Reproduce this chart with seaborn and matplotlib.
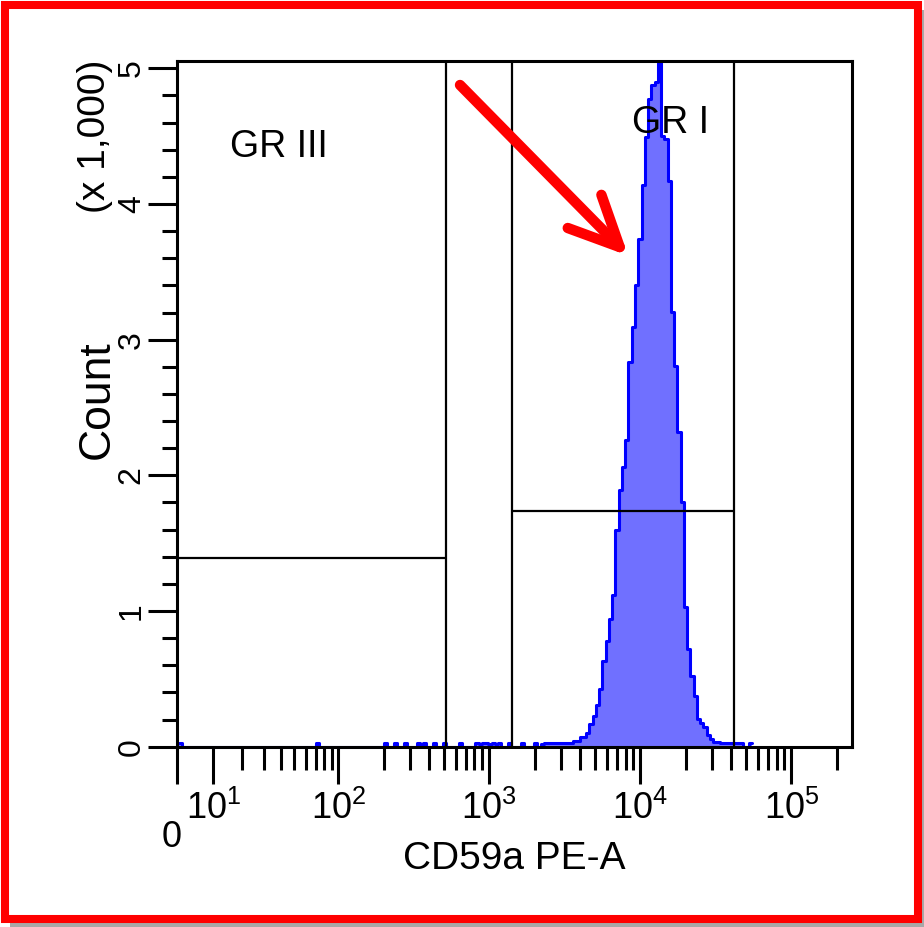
import numpy as np
import pandas as pd
import matplotlib
matplotlib.use("Agg")
import matplotlib.pyplot as plt
import matplotlib.transforms as mtransforms
from matplotlib.patches import Rectangle
from matplotlib.ticker import FixedLocator, NullFormatter
import seaborn as sns

# ---------------- data ----------------
# counts per histogram channel, starting at CD59a PE-A ~ 810
counts_start = 810
peak_counts = [25, 20, 25, 25, 20, 25, 20, 25,
               0, 0, 25, 0, 0, 0, 25, 0, 0, 0, 25, 0,
               22, 25, 25, 25, 25, 25, 25, 25, 30, 30,
               44, 44, 70, 70, 100, 170, 228, 310, 428, 634,
               781, 943, 1120, 1600, 1894, 2064, 2263, 2838, 3096, 3405,
               3744, 4142, 4496, 4776, 4880, 4900, 5040, 4500, 4480, 4170,
               3206, 2806, 2322, 1806, 1032, 720, 521, 376, 204, 172,
               147, 86, 57, 35, 35,
               25, 25, 25, 25, 25, 25, 25, 0, 0, 25]
# isolated low-intensity events (CD59a PE-A value, count)
isolated_events = [1, 72, 207, 240, 278, 340, 376, 436, 506, 648]
isolated_counts = [25, 25, 25, 25, 25, 25, 25, 25, 25, 25]

# gates
gr3_bounds = [0, 522]
gr3_level = 1391
gr1_bounds = [1420, 41600]
gr1_level = 1737
gate_names = ["GR III", "GR I"]

x_major = [0, 10, 100, 1000, 10000, 100000]
x_major_labels = ["0", r"$\mathregular{10^{1}}$", r"$\mathregular{10^{2}}$",
                  r"$\mathregular{10^{3}}$", r"$\mathregular{10^{4}}$",
                  r"$\mathregular{10^{5}}$"]
x_minor = [m * 10 ** e for e in range(1, 5) for m in range(2, 10)] + [200000]
y_major = [0, 1000, 2000, 3000, 4000, 5000]
y_major_labels = ["0", "1", "2", "3", "4", "5"]
y_minor = list(range(0, 5001, 200))

# ---------------- biexponential-like display scale ----------------
W = 17.2


def fwd(x):
    return np.arcsinh(np.asarray(x, dtype=float) / W) / np.log(10)


def inv(d):
    return W * np.sinh(np.asarray(d, dtype=float) * np.log(10))


# channels are uniform on the display (transformed) scale
BIN_START, BIN_WIDTH, N_BINS = 0.0123, 0.02156, 176
edges_disp = BIN_START + BIN_WIDTH * np.arange(N_BINS + 1)
centers = inv(BIN_START + BIN_WIDTH * (np.arange(N_BINS) + 0.5))
i0 = int(np.searchsorted(inv(edges_disp), counts_start))

df = pd.DataFrame({
    "CD59a PE-A": np.concatenate([centers[i0:i0 + len(peak_counts)], isolated_events]),
    "count": np.concatenate([peak_counts, isolated_counts]).astype(float),
})
# seaborn bins in the axis' transformed space when a function scale is set
bin_list = [float(e) for e in edges_disp]

# ---------------- figure ----------------
sns.set_style("white")
plt.rcParams["font.family"] = ["Liberation Sans", "DejaVu Sans"]
plt.rcParams["mathtext.default"] = "regular"

FILL = "#7070FF"
EDGE = "#0000FF"

fig, ax = plt.subplots(figsize=(9.24, 9.27), dpi=100)
fig.patch.set_facecolor("white")
fig.subplots_adjust(left=177 / 924, right=851.5 / 924,
                    bottom=1 - 746.7 / 927, top=1 - 61 / 927)

# frame with drop shadow
fig.add_artist(Rectangle((10 / 924, 0), 914 / 924, 917 / 927,
                         transform=fig.transFigure, facecolor="#A8A8A8",
                         edgecolor="none", zorder=-3))
fig.add_artist(Rectangle((5 / 924, 8 / 927), 913 / 924, 914 / 927,
                         transform=fig.transFigure, facecolor="white",
                         edgecolor="#FF0000", linewidth=5.8, zorder=-2))

ax.set_xscale("function", functions=(fwd, inv))

sns.histplot(data=df, x="CD59a PE-A", weights="count", bins=bin_list,
             element="step", fill=True, color=FILL, alpha=1, linewidth=0,
             ax=ax, zorder=1)
sns.histplot(data=df, x="CD59a PE-A", weights="count", bins=bin_list,
             element="step", fill=False, color=EDGE, linewidth=2.2,
             ax=ax, zorder=2)

ax.set_xlim(0, 250000)
ax.set_ylim(0, 5054)

# gates
for xv in [gr3_bounds[1], gr1_bounds[0], gr1_bounds[1]]:
    ax.axvline(xv, color="black", lw=1.6, zorder=3)
ax.hlines(gr3_level, gr3_bounds[0], gr3_bounds[1], color="black", lw=1.6, zorder=3)
ax.hlines(gr1_level, gr1_bounds[0], gr1_bounds[1], color="black", lw=1.6, zorder=3)

ax.text(0.0786, 0.860, gate_names[0], transform=ax.transAxes, fontsize=27,
        ha="left", va="baseline", color="black", zorder=5)
ax.text(0.6746, 0.8946, gate_names[1], transform=ax.transAxes, fontsize=27,
        ha="left", va="baseline", color="black", zorder=5)

# red arrow
ax.annotate("", xy=(0.669, 0.716), xytext=(0.4196, 0.965),
            xycoords="axes fraction", textcoords="axes fraction",
            arrowprops=dict(arrowstyle="->, head_length=36, head_width=17",
                            mutation_scale=1, color="#FF0000", lw=7.5,
                            shrinkA=0, shrinkB=0, capstyle="round",
                            joinstyle="round"),
            zorder=6)

# spines
for s in ax.spines.values():
    s.set_color("black")
    s.set_linewidth(2.2)
    s.set_visible(True)

# ticks
ax.xaxis.set_major_locator(FixedLocator(x_major))
ax.set_xticklabels(x_major_labels)
ax.xaxis.set_minor_locator(FixedLocator(x_minor))
ax.xaxis.set_minor_formatter(NullFormatter())
ax.yaxis.set_major_locator(FixedLocator(y_major))
ax.set_yticklabels(y_major_labels)
ax.yaxis.set_minor_locator(FixedLocator(y_minor))
ax.yaxis.set_minor_formatter(NullFormatter())

ax.tick_params(axis="both", which="both", direction="out", color="black",
               labelcolor="black", width=2.2, bottom=True, left=True,
               top=False, right=False)
ax.tick_params(axis="x", which="major", length=26.4, pad=5, labelsize=26)
ax.tick_params(axis="x", which="minor", length=16.3)
ax.tick_params(axis="y", which="major", length=20.7, pad=1, labelsize=23,
               labelrotation=90)
ax.tick_params(axis="y", which="minor", length=11)
for lbl in ax.get_yticklabels():
    lbl.set_va("center")

# move the "0" label lower, as in the reference
zero_lbl = ax.xaxis.get_major_ticks()[0].label1
zero_lbl.set_transform(zero_lbl.get_transform() +
                       mtransforms.ScaledTranslation(-0.05, -0.30, fig.dpi_scale_trans))

# axis labels
ax.set_xlabel("CD59a PE-A", fontsize=28, color="black")
ax.xaxis.set_label_coords(0.5004, -0.1375)
ax.set_ylabel("Count", fontsize=32, color="black")
ax.yaxis.set_label_coords(-0.088, 0.5056)
ax.text(-0.1216, 0.8906, "(x 1,000)", rotation=90, ha="center", va="center",
        transform=ax.transAxes, fontsize=28, color="black")

ax.set_facecolor("white")
fig.savefig("out.png", dpi=100, facecolor="white")
